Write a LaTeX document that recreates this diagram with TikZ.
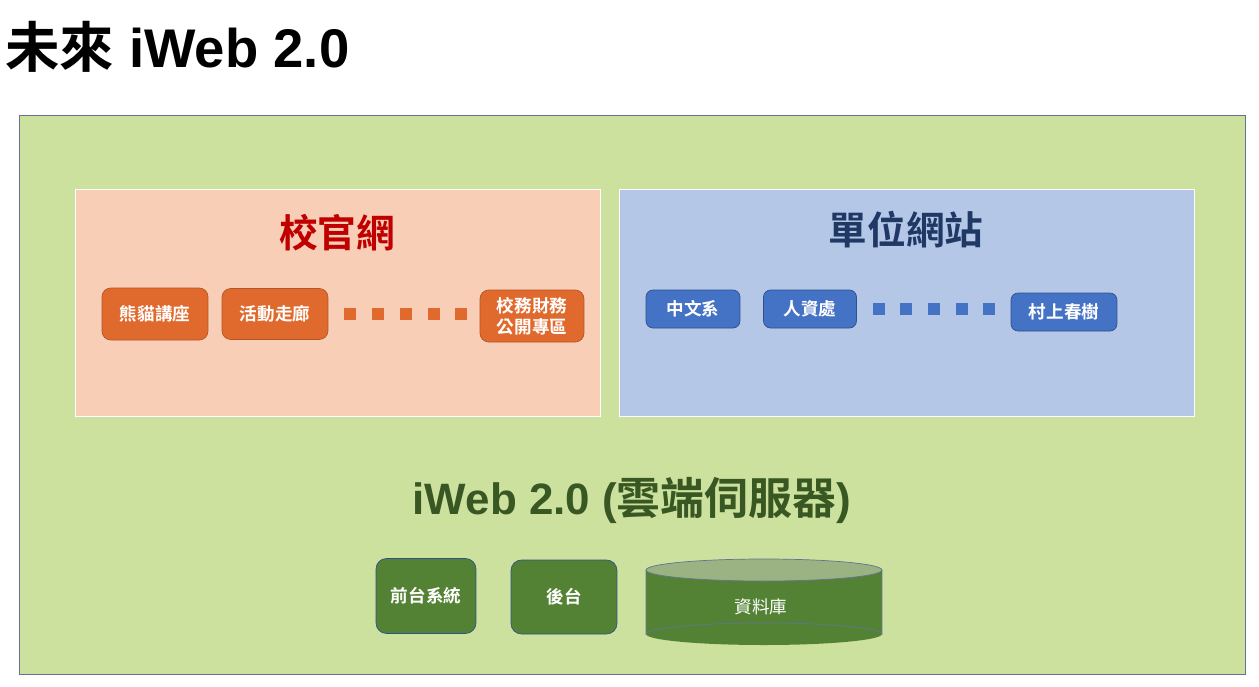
\documentclass[tikz,border=0pt]{standalone}
\usepackage{fontspec}
\setmainfont{Liberation Sans}
\newfontfamily\cjk{Noto Sans CJK TC}[BoldFont={Noto Sans CJK TC Bold}]
\usetikzlibrary{shapes.geometric}
\definecolor{bggreen}{RGB}{205,225,159}
\definecolor{pinkbg}{RGB}{248,206,182}
\definecolor{bluebg}{RGB}{180,199,231}
\definecolor{orangebox}{RGB}{224,106,46}
\definecolor{bluebox}{RGB}{68,114,196}
\definecolor{greenbox}{RGB}{84,130,53}
\definecolor{darkred}{RGB}{192,0,0}
\definecolor{navy}{RGB}{31,56,100}
\definecolor{textgreen}{RGB}{56,87,35}
\definecolor{topgreen}{RGB}{155,178,130}
\tikzset{
  orangeitem/.style={draw=orangebox!80!black, fill=orangebox, rounded corners=5pt, text=white, font=\cjk\bfseries\fontsize{10}{12}\selectfont, align=center, inner sep=0pt},
  blueitem/.style={draw=bluebox!70!black, fill=bluebox, rounded corners=4pt, text=white, font=\cjk\bfseries\fontsize{10}{12}\selectfont, inner sep=0pt},
  greenitem/.style={draw=bluebox!70!black, fill=greenbox, rounded corners=6pt, text=white, font=\cjk\bfseries\fontsize{10}{12}\selectfont, inner sep=0pt},
  dotsq/.style={fill=#1, minimum size=0.25cm, inner sep=0pt}
}
\begin{document}
\begin{tikzpicture}[x=0.02cm, y=-0.02cm]
\useasboundingbox (0,0) rectangle (1259,687);
% title
\node[anchor=west, font=\bfseries\fontsize{31}{34}\selectfont, inner sep=0pt] (title) at (5,47) {{\cjk 未來} iWeb 2.0};
% panels
\draw[draw=navy!70, fill=bggreen] (19,115) rectangle (1245,674);
\node[draw=white, fill=pinkbg, minimum width=10.5cm, minimum height=4.54cm, anchor=north west] (school) at (75,189) {};
\node[draw=white, fill=bluebg, minimum width=11.5cm, minimum height=4.54cm, anchor=north west] (unit) at (619,189) {};
\node[text=darkred, font=\cjk\bfseries\fontsize{22}{26}\selectfont] (schooltitle) at (337,233) {校官網};
\node[text=navy, font=\cjk\bfseries\fontsize{22}{26}\selectfont] (unittitle) at (906,230) {單位網站};
% school items
\node[orangeitem, minimum width=2.12cm, minimum height=1.04cm] (panda) at (155,314) {熊貓講座};
\node[orangeitem, minimum width=2.12cm, minimum height=1.02cm] (corridor) at (275,314) {活動走廊};
\node[orangeitem, minimum width=2.08cm, minimum height=1.04cm] (finance) at (532,316) {校務財務\\公開專區};
\foreach \x in {350,378,406,434,461}
  \node[dotsq=orangebox] at (\x,314) {};
% unit items
\node[blueitem, minimum width=1.88cm, minimum height=0.76cm] (chinese) at (693,309) {中文系};
\node[blueitem, minimum width=1.86cm, minimum height=0.76cm] (hr) at (810,309) {人資處};
\node[blueitem, minimum width=2.12cm, minimum height=0.76cm] (murakami) at (1064,312) {村上春樹};
\foreach \x in {879,906,934,962,989}
  \node[dotsq=bluebox] at (\x,309) {};
% server
\node[text=textgreen, font=\bfseries\fontsize{25}{29}\selectfont] (server) at (632,500) {iWeb 2.0 ({\cjk 雲端伺服器})};
\node[greenitem, minimum width=2cm, minimum height=1.5cm] (front) at (426,596) {前台系統};
\node[greenitem, minimum width=2.12cm, minimum height=1.48cm] (back) at (564,597) {後台};
\fill[greenbox] (646,570) rectangle (882,634);
\fill[greenbox] (764,634) ellipse [x radius=118, y radius=11];
\draw[navy!70] (646,570) -- (646,634) arc[start angle=180, end angle=360, x radius=118, y radius=11] -- (882,570);
\draw[navy!70, fill=topgreen] (764,570) ellipse [x radius=118, y radius=11];
\node[text=white, font=\cjk\fontsize{10}{12}\selectfont] (db) at (761,607) {資料庫};
\end{tikzpicture}
\end{document}
